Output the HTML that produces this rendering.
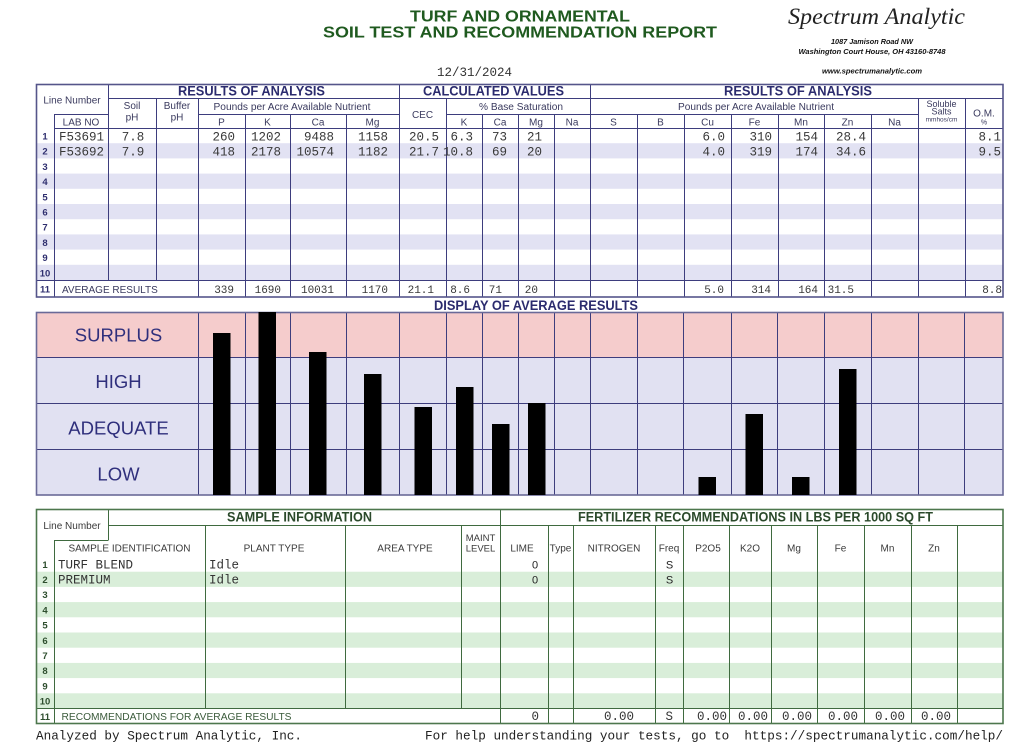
<!DOCTYPE html>
<html><head><meta charset="utf-8"><style>
html,body{margin:0;padding:0;background:#fff;}
svg{display:block;}
.s{font-family:"Liberation Sans",Arial,sans-serif;}
.m{font-family:"Liberation Mono","Courier New",monospace;}
</style></head><body>
<svg width="1015" height="755" viewBox="0 0 1015 755" xmlns="http://www.w3.org/2000/svg">
<rect width="1015" height="755" fill="#fff"/>

<!-- Title -->
<text class="s" x="410" y="21.5" font-size="15.5" font-weight="bold" fill="#1f5a1f" textLength="220" lengthAdjust="spacingAndGlyphs">TURF AND ORNAMENTAL</text>
<text class="s" x="323" y="37.5" font-size="15.5" font-weight="bold" fill="#1f5a1f" textLength="394" lengthAdjust="spacingAndGlyphs">SOIL TEST AND RECOMMENDATION REPORT</text>

<!-- Logo -->
<text x="788" y="24" font-family="Liberation Serif,serif" font-style="italic" font-size="23" fill="#222" textLength="177" lengthAdjust="spacingAndGlyphs">Spectrum Analytic</text>
<text class="s" x="872" y="44" font-size="7.5" font-weight="bold" font-style="italic" fill="#111" text-anchor="middle" textLength="82" lengthAdjust="spacingAndGlyphs">1087 Jamison Road NW</text>
<text class="s" x="872" y="54" font-size="7.5" font-weight="bold" font-style="italic" fill="#111" text-anchor="middle" textLength="147" lengthAdjust="spacingAndGlyphs">Washington Court House, OH  43160-8748</text>
<text class="s" x="872" y="73.5" font-size="7.5" font-weight="bold" font-style="italic" fill="#111" text-anchor="middle" textLength="100" lengthAdjust="spacingAndGlyphs">www.spectrumanalytic.com</text>

<!-- Date -->
<text class="m" x="437" y="76" font-size="12.5" fill="#333" textLength="75" lengthAdjust="spacingAndGlyphs">12/31/2024</text>

<!-- ===== TOP TABLE ===== -->
<g fill="#e2e2f3">
<rect x="36" y="143.2" width="967" height="15.2"/>
<rect x="36" y="173.6" width="967" height="15.2"/>
<rect x="36" y="204" width="967" height="15.2"/>
<rect x="36" y="234.4" width="967" height="15.2"/>
<rect x="36" y="264.8" width="967" height="15.2"/>
</g>
<g stroke="#3d3d7d" stroke-width="1" fill="none">
<line x1="54.5" y1="114" x2="54.5" y2="297"/>
<line x1="108.5" y1="84" x2="108.5" y2="280"/>
<line x1="156.5" y1="98" x2="156.5" y2="280"/>
<line x1="198.5" y1="98" x2="198.5" y2="297"/>
<line x1="245.5" y1="114" x2="245.5" y2="297"/>
<line x1="290.5" y1="114" x2="290.5" y2="297"/>
<line x1="346.5" y1="114" x2="346.5" y2="297"/>
<line x1="399.5" y1="84" x2="399.5" y2="297"/>
<line x1="446.5" y1="98" x2="446.5" y2="297"/>
<line x1="482.5" y1="114" x2="482.5" y2="297"/>
<line x1="518.5" y1="114" x2="518.5" y2="297"/>
<line x1="554.5" y1="114" x2="554.5" y2="297"/>
<line x1="590.5" y1="84" x2="590.5" y2="297"/>
<line x1="637.5" y1="114" x2="637.5" y2="297"/>
<line x1="684.5" y1="114" x2="684.5" y2="297"/>
<line x1="731.5" y1="114" x2="731.5" y2="297"/>
<line x1="778.5" y1="114" x2="778.5" y2="297"/>
<line x1="824.5" y1="114" x2="824.5" y2="297"/>
<line x1="871.5" y1="114" x2="871.5" y2="297"/>
<line x1="918.5" y1="98" x2="918.5" y2="297"/>
<line x1="965.5" y1="98" x2="965.5" y2="297"/>
<line x1="108" y1="98.5" x2="1003" y2="98.5"/>
<line x1="54" y1="114.5" x2="108" y2="114.5"/>
<line x1="198" y1="114.5" x2="399" y2="114.5"/>
<line x1="446" y1="114.5" x2="918" y2="114.5"/>
<line x1="54" y1="128.5" x2="1003" y2="128.5"/>
<line x1="36" y1="280.5" x2="1003" y2="280.5"/>
</g>
<rect x="36.5" y="84.5" width="966.5" height="212.5" fill="none" stroke="#55558a" stroke-width="1.6"/>

<!-- top headers -->
<g class="s" font-weight="bold" font-size="13.5" fill="#2b2b6e">
<text x="178" y="95.5" textLength="147" lengthAdjust="spacingAndGlyphs">RESULTS OF ANALYSIS</text>
<text x="423" y="95.5" textLength="141" lengthAdjust="spacingAndGlyphs">CALCULATED VALUES</text>
<text x="724" y="95.5" textLength="148" lengthAdjust="spacingAndGlyphs">RESULTS OF ANALYSIS</text>
</g>
<g class="s" font-size="10" fill="#3a3a5e" text-anchor="middle">
<text x="72" y="103.5">Line Number</text>
<text x="132" y="109">Soil</text>
<text x="132" y="120.5">pH</text>
<text x="177" y="109">Buffer</text>
<text x="177" y="120.5">pH</text>
<text x="292" y="110" textLength="157" lengthAdjust="spacingAndGlyphs">Pounds per Acre Available Nutrient</text>
<text x="422.5" y="118">CEC</text>
<text x="521" y="110" textLength="84" lengthAdjust="spacingAndGlyphs">% Base Saturation</text>
<text x="756" y="110" textLength="156" lengthAdjust="spacingAndGlyphs">Pounds per Acre Available Nutrient</text>
<text x="941.5" y="107" font-size="9">Soluble</text>
<text x="941.5" y="114.5" font-size="9">Salts</text>
<text x="941.5" y="121.5" font-size="6.5">mmhos/cm</text>
<text x="984" y="116.5">O.M.</text>
<text x="984" y="124.5" font-size="7">%</text>
<text x="81" y="125.5">LAB NO</text>
<text x="221.5" y="125.5">P</text>
<text x="267.5" y="125.5">K</text>
<text x="318" y="125.5">Ca</text>
<text x="372.5" y="125.5">Mg</text>
<text x="464" y="125.5">K</text>
<text x="500" y="125.5">Ca</text>
<text x="536" y="125.5">Mg</text>
<text x="572" y="125.5">Na</text>
<text x="613.5" y="125.5">S</text>
<text x="660.5" y="125.5">B</text>
<text x="707.5" y="125.5">Cu</text>
<text x="754.5" y="125.5">Fe</text>
<text x="801" y="125.5">Mn</text>
<text x="847.5" y="125.5">Zn</text>
<text x="894.5" y="125.5">Na</text>
</g>
<!-- row numbers top -->
<g class="s" font-size="9.5" font-weight="bold" fill="#2f2f6f" text-anchor="middle">
<text x="45" y="139.5">1</text>
<text x="45" y="154.7">2</text>
<text x="45" y="169.9">3</text>
<text x="45" y="185.1">4</text>
<text x="45" y="200.3">5</text>
<text x="45" y="215.5">6</text>
<text x="45" y="230.7">7</text>
<text x="45" y="245.9">8</text>
<text x="45" y="261.1">9</text>
<text x="45" y="276.3">10</text>
<text x="45" y="292.5">11</text>
</g>
<text class="s" x="62" y="293" font-size="10" fill="#3a3a5e">AVERAGE RESULTS</text>
<!-- data top -->
<g class="m" font-size="12.5" fill="#383838" text-anchor="end">
<text x="59" y="140.5" text-anchor="start">F53691</text>
<text x="133" y="140.5" text-anchor="middle">7.8</text>
<text x="235" y="140.5">260</text>
<text x="281" y="140.5">1202</text>
<text x="334" y="140.5">9488</text>
<text x="388" y="140.5">1158</text>
<text x="439" y="140.5">20.5</text>
<text x="473" y="140.5">6.3</text>
<text x="507" y="140.5">73</text>
<text x="542" y="140.5">21</text>
<text x="725" y="140.5">6.0</text>
<text x="772" y="140.5">310</text>
<text x="818" y="140.5">154</text>
<text x="866" y="140.5">28.4</text>
<text x="1001" y="140.5">8.1</text>

<text x="59" y="155.7" text-anchor="start">F53692</text>
<text x="133" y="155.7" text-anchor="middle">7.9</text>
<text x="235" y="155.7">418</text>
<text x="281" y="155.7">2178</text>
<text x="334" y="155.7">10574</text>
<text x="388" y="155.7">1182</text>
<text x="439" y="155.7">21.7</text>
<text x="473" y="155.7">10.8</text>
<text x="507" y="155.7">69</text>
<text x="542" y="155.7">20</text>
<text x="725" y="155.7">4.0</text>
<text x="772" y="155.7">319</text>
<text x="818" y="155.7">174</text>
<text x="866" y="155.7">34.6</text>
<text x="1001" y="155.7">9.5</text>
</g>
<g class="m" font-size="11" fill="#383838" text-anchor="end">
<text x="234" y="293">339</text>
<text x="281" y="293">1690</text>
<text x="334" y="293">10031</text>
<text x="388" y="293">1170</text>
<text x="434" y="293">21.1</text>
<text x="470" y="293">8.6</text>
<text x="502" y="293">71</text>
<text x="538" y="293">20</text>
<text x="724" y="293">5.0</text>
<text x="771" y="293">314</text>
<text x="818" y="293">164</text>
<text x="854" y="293">31.5</text>
<text x="1002" y="293">8.8</text>
</g>

<!-- ===== DISPLAY CHART ===== -->
<text class="s" x="434" y="310" font-size="13.5" font-weight="bold" fill="#2b2b6e" textLength="204" lengthAdjust="spacingAndGlyphs">DISPLAY OF AVERAGE RESULTS</text>
<rect x="36" y="312" width="967" height="45" fill="#f5cccc"/>
<rect x="36" y="357" width="967" height="138" fill="#e1e1f2"/>
<g stroke="#3d3d7d" stroke-width="1">
<line x1="36" y1="357.5" x2="1003" y2="357.5"/>
<line x1="36" y1="403.5" x2="1003" y2="403.5"/>
<line x1="36" y1="449.5" x2="1003" y2="449.5"/>
<line x1="198.5" y1="312" x2="198.5" y2="495"/>
<line x1="245.5" y1="312" x2="245.5" y2="495"/>
<line x1="290.5" y1="312" x2="290.5" y2="495"/>
<line x1="346.5" y1="312" x2="346.5" y2="495"/>
<line x1="399.5" y1="312" x2="399.5" y2="495"/>
<line x1="446.5" y1="312" x2="446.5" y2="495"/>
<line x1="482.5" y1="312" x2="482.5" y2="495"/>
<line x1="518.5" y1="312" x2="518.5" y2="495"/>
<line x1="554.5" y1="312" x2="554.5" y2="495"/>
<line x1="590.5" y1="312" x2="590.5" y2="495"/>
<line x1="637.5" y1="312" x2="637.5" y2="495"/>
<line x1="683.5" y1="312" x2="683.5" y2="495"/>
<line x1="731.5" y1="312" x2="731.5" y2="495"/>
<line x1="777.5" y1="312" x2="777.5" y2="495"/>
<line x1="824.5" y1="312" x2="824.5" y2="495"/>
<line x1="871.5" y1="312" x2="871.5" y2="495"/>
<line x1="918.5" y1="312" x2="918.5" y2="495"/>
<line x1="964.5" y1="312" x2="964.5" y2="495"/>
</g>
<rect x="36.5" y="312.5" width="966.5" height="182.5" fill="none" stroke="#6a6a98" stroke-width="1.6"/>
<g fill="#000">
<rect x="213" y="333" width="17.5" height="162"/>
<rect x="258.5" y="312" width="17.5" height="183"/>
<rect x="309" y="352" width="17.5" height="143"/>
<rect x="364" y="374" width="17.5" height="121"/>
<rect x="414.5" y="407" width="17.5" height="88"/>
<rect x="456" y="387" width="17.5" height="108"/>
<rect x="492" y="424" width="17.5" height="71"/>
<rect x="528" y="403" width="17.5" height="92"/>
<rect x="698.5" y="477" width="17.5" height="18"/>
<rect x="745.5" y="414" width="17.5" height="81"/>
<rect x="792" y="477" width="17.5" height="18"/>
<rect x="839" y="369" width="17.5" height="126"/>
</g>
<g class="s" font-size="18.5" fill="#2f2f7c" text-anchor="middle">
<text x="118.5" y="341.5">SURPLUS</text>
<text x="118.5" y="388">HIGH</text>
<text x="118.5" y="434.5">ADEQUATE</text>
<text x="118.5" y="480.5">LOW</text>
</g>

<!-- ===== BOTTOM TABLE ===== -->
<g fill="#d9eed9">
<rect x="36" y="571.7" width="967" height="15.2"/>
<rect x="36" y="602.1" width="967" height="15.2"/>
<rect x="36" y="632.5" width="967" height="15.2"/>
<rect x="36" y="662.9" width="967" height="15.2"/>
<rect x="36" y="693.3" width="967" height="15.2"/>
</g>
<g stroke="#3f6a3f" stroke-width="1">
<line x1="108" y1="525.5" x2="1003" y2="525.5"/>
<line x1="108.5" y1="509" x2="108.5" y2="540"/>
<line x1="54" y1="540.5" x2="108.5" y2="540.5"/>
<line x1="54.5" y1="540" x2="54.5" y2="724"/>
<line x1="205.5" y1="525" x2="205.5" y2="708.5"/>
<line x1="345.5" y1="525" x2="345.5" y2="708.5"/>
<line x1="461.5" y1="525" x2="461.5" y2="708.5"/>
<line x1="500.5" y1="509" x2="500.5" y2="724"/>
<line x1="548.5" y1="525" x2="548.5" y2="724"/>
<line x1="573.5" y1="525" x2="573.5" y2="724"/>
<line x1="655.5" y1="525" x2="655.5" y2="724"/>
<line x1="683.5" y1="525" x2="683.5" y2="724"/>
<line x1="729.5" y1="525" x2="729.5" y2="724"/>
<line x1="771.5" y1="525" x2="771.5" y2="724"/>
<line x1="817.5" y1="525" x2="817.5" y2="724"/>
<line x1="864.5" y1="525" x2="864.5" y2="724"/>
<line x1="911.5" y1="525" x2="911.5" y2="724"/>
<line x1="957.5" y1="525" x2="957.5" y2="724"/>
<line x1="36" y1="708.5" x2="1003" y2="708.5"/>
</g>
<rect x="36.5" y="509.5" width="966.5" height="214" fill="none" stroke="#4d774d" stroke-width="1.6"/>

<g class="s" font-weight="bold" font-size="13.5" fill="#2b4a2b">
<text x="227" y="521.7" textLength="145" lengthAdjust="spacingAndGlyphs">SAMPLE INFORMATION</text>
<text x="578" y="521.7" textLength="355" lengthAdjust="spacingAndGlyphs">FERTILIZER RECOMMENDATIONS IN LBS PER 1000 SQ FT</text>
</g>
<g class="s" font-size="10" fill="#3a3a3a" text-anchor="middle">
<text x="72" y="529">Line Number</text>
<text x="129.5" y="551.5">SAMPLE IDENTIFICATION</text>
<text x="274" y="551.5">PLANT TYPE</text>
<text x="405" y="551.5">AREA TYPE</text>
<text x="480.5" y="541" font-size="9.5">MAINT</text>
<text x="480.5" y="551.5" font-size="9.5">LEVEL</text>
<text x="522" y="551.5">LIME</text>
<text x="560.5" y="551.5">Type</text>
<text x="614" y="551.5">NITROGEN</text>
<text x="669" y="551.5">Freq</text>
<text x="708" y="551.5">P2O5</text>
<text x="750" y="551.5">K2O</text>
<text x="794" y="551.5">Mg</text>
<text x="840.5" y="551.5">Fe</text>
<text x="887.5" y="551.5">Mn</text>
<text x="934" y="551.5">Zn</text>
</g>
<g class="s" font-size="9.5" font-weight="bold" fill="#2e4e2e" text-anchor="middle">
<text x="45" y="567.8">1</text>
<text x="45" y="583">2</text>
<text x="45" y="598.2">3</text>
<text x="45" y="613.4">4</text>
<text x="45" y="628.6">5</text>
<text x="45" y="643.8">6</text>
<text x="45" y="659">7</text>
<text x="45" y="674.2">8</text>
<text x="45" y="689.4">9</text>
<text x="45" y="704.6">10</text>
<text x="45" y="720">11</text>
</g>
<text class="s" x="61.5" y="720" font-size="10" fill="#3a5a3a" textLength="230" lengthAdjust="spacingAndGlyphs">RECOMMENDATIONS FOR AVERAGE RESULTS</text>
<g class="m" font-size="12.5" fill="#333">
<text x="58" y="568.5">TURF BLEND</text>
<text x="209" y="568.5">Idle</text>
<text x="58" y="583.7">PREMIUM</text>
<text x="209" y="583.7">Idle</text>
</g>
<g class="s" font-size="11" fill="#222" text-anchor="middle">
<text x="535" y="568.5">0</text>
<text x="669.5" y="568.5">S</text>
<text x="535" y="583.7">0</text>
<text x="669.5" y="583.7">S</text>
</g>
<g class="m" font-size="12.5" fill="#333" text-anchor="end">
<text x="539" y="720">0</text>
<text x="634" y="720">0.00</text>
<text x="673" y="720">S</text>
<text x="727" y="720">0.00</text>
<text x="768" y="720">0.00</text>
<text x="812" y="720">0.00</text>
<text x="858" y="720">0.00</text>
<text x="905" y="720">0.00</text>
<text x="951" y="720">0.00</text>
</g>

<!-- Footer -->
<text class="m" x="36" y="739.5" font-size="12.7" fill="#222" textLength="266" lengthAdjust="spacingAndGlyphs">Analyzed by Spectrum Analytic, Inc.</text>
<text class="m" x="425" y="739.5" font-size="12.7" fill="#222" textLength="578" lengthAdjust="spacingAndGlyphs" xml:space="preserve">For help understanding your tests, go to  https://spectrumanalytic.com/help/</text>
</svg>
</body></html>
